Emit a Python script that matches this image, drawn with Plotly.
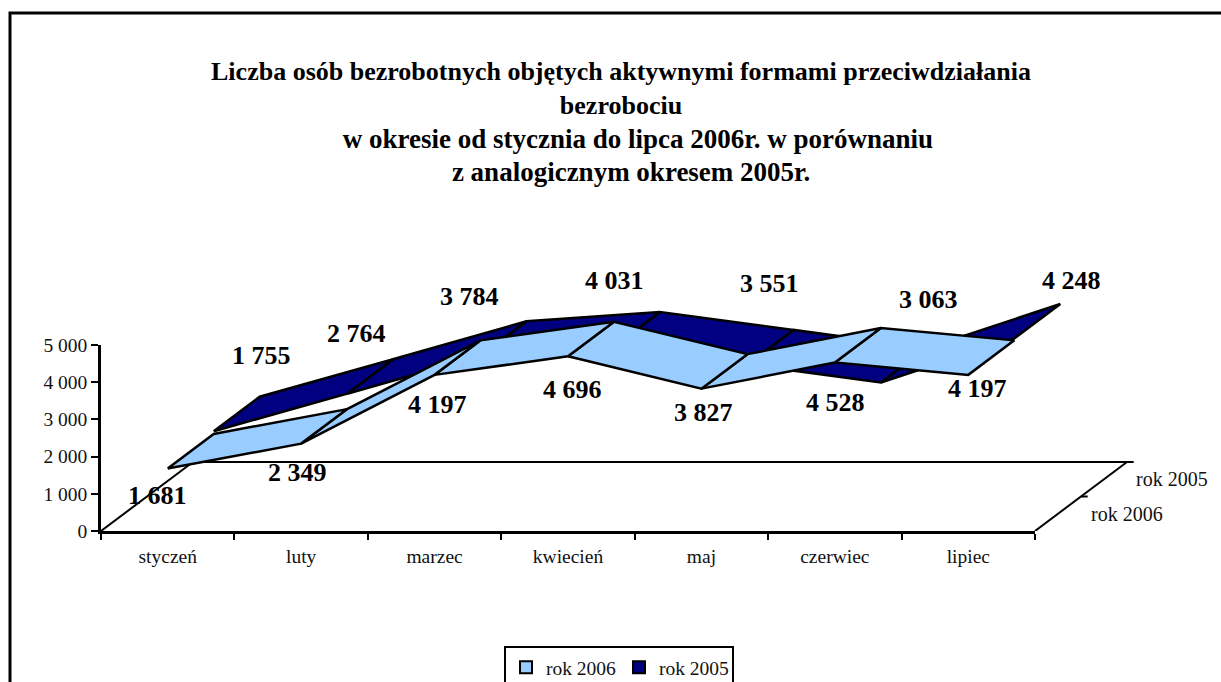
import plotly.graph_objects as go

# ---- data ----
months = ["styczeń", "luty", "marzec", "kwiecień", "maj", "czerwiec", "lipiec"]
rok_2006 = [1681, 2349, 4197, 4696, 3827, 4528, 4197]
rok_2005 = [1755, 2764, 3784, 4031, 3551, 3063, 4248]
series_names = ["rok 2006", "rok 2005"]
title_lines = [
    "Liczba osób bezrobotnych objętych aktywnymi formami przeciwdziałania",
    "bezrobociu",
    "w okresie od stycznia do lipca 2006r. w porównaniu",
    "z analogicznym okresem 2005r.",
]

# ---- style / layout ----
W, H = 1221, 682
L, R, T, B = 101, 1035, 345, 531
FONT = "Liberation Serif"
LIGHT, DARK = "#99CCFF", "#000080"
PX_X = (R - L) / 7               # pixels per category
PX_Y = (B - T) / 5000            # pixels per value unit
DX = 92 / PX_X                   # full depth of the oblique view, in category units
DY = 69 / PX_Y                   # full depth of the oblique view, in value units
x_idx = list(range(len(months)))
x0, x1 = -0.5, len(months) - 0.5
TOP_OVERLAY = 250                # top pixel of the overlay subplot holding the 3D marks

# pixel nudges of data labels from their ribbon-edge anchors
off_2006 = [(-10, 27), (-4, 29), (3, 30), (4, 33), (2, 24), (1, 40), (9, 14)]
off_2005 = [(48, -76), (9, -60), (-11, -59), (0, -66), (22, -81), (48, -83), (57, -58)]


def proj(x, y, d):
    return x + DX * d, y + DY * d


fig = go.Figure()

# legend entries (and the subplot of the visible axes)
for name, col in zip(series_names, [LIGHT, DARK]):
    fig.add_bar(x=[None], y=[None], name=name, marker=dict(color=col, line=dict(color="black", width=2)))

# floor of the 3D box
fx, fy = [], []
for (xa, ya, da), (xb, yb, db) in [
    ((x0, 0, 0), (x0, 0, 1)),
    ((x0, 0, 1), (x1, 0, 1)),
    ((x1, 0, 1), (x1, 0, 0)),
]:
    a, b = proj(xa, ya, da), proj(xb, yb, db)
    fx += [a[0], b[0], None]
    fy += [a[1], b[1], None]
for d in (0.5, 1.0):
    a = proj(x1, 0, d)
    fx += [a[0], a[0] + 0.05, None]
    fy += [a[1], a[1], None]
fig.add_scatter(x=fx, y=fy, xaxis="x2", yaxis="y2", mode="lines", line=dict(color="black", width=2),
                showlegend=False, hoverinfo="skip")

# ribbons: back series first, each ribbon right to left
for vals, (d0, d1), col in [(rok_2005, (0.5, 1.0), DARK), (rok_2006, (0.0, 0.5), LIGHT)]:
    for i in reversed(range(len(vals) - 1)):
        corners = [proj(i, vals[i], d0), proj(i + 1, vals[i + 1], d0),
                   proj(i + 1, vals[i + 1], d1), proj(i, vals[i], d1), proj(i, vals[i], d0)]
        fig.add_scatter(x=[c[0] for c in corners], y=[c[1] for c in corners],
                        xaxis="x2", yaxis="y2",
                        mode="lines", fill="toself", fillcolor=col,
                        line=dict(color="black", width=2.5), showlegend=False,
                        hoverinfo="skip")

# data labels
ann = []
for vals, d, offs in [(rok_2006, 0.0, off_2006), (rok_2005, 0.5, off_2005)]:
    for i, v in enumerate(vals):
        px, py = proj(i, v, d)
        ann.append(dict(x=px, y=py, xref="x2", yref="y2", text=f"{v:,}".replace(",", " "),
                        showarrow=False, xanchor="center", yanchor="middle",
                        xshift=offs[i][0], yshift=-offs[i][1],
                        font=dict(family=FONT, size=26, color="black", weight="bold")))
# depth axis labels
for name, d, sx in [(series_names[0], 0.25, 31), (series_names[1], 0.75, 30)]:
    px, py = proj(x1, 0, d)
    ann.append(dict(x=px, y=py, xref="x2", yref="y2", text=name, showarrow=False,
                    xanchor="left", yanchor="middle", xshift=sx,
                    font=dict(family=FONT, size=20, color="#111")))

# title: the last two lines are set a little larger and sit right of centre in the original
title_html = "<br>".join([
    title_lines[0],
    title_lines[1],
    '<span style="font-size:27px">' + "\u00a0" * 5 + title_lines[2] + "</span>",
    '<span style="font-size:27px">' + "\u00a0" * 3 + title_lines[3] + "</span>",
])

fig.update_layout(
    width=W, height=H, margin=dict(l=0, r=0, t=0, b=0, autoexpand=False),
    paper_bgcolor="white", plot_bgcolor="rgba(0,0,0,0)", separators=". ",
    font=dict(family=FONT, size=19.5, color="#111"),
    title=dict(text=title_html, x=621 / W, xref="container", xanchor="center",
               y=1 - 80 / H, yref="container", yanchor="top",
               font=dict(family=FONT, size=26, color="black", weight="bold")),
    xaxis=dict(domain=[L / W, R / W], anchor="y", range=[x0, x1], tickmode="array", tickvals=x_idx,
               ticktext=months, ticks="", showgrid=False, zeroline=False, showline=True,
               linecolor="black", linewidth=2.5, ticklabelstandoff=6,
               minor=dict(ticks="outside", ticklen=6, tickwidth=2, tickcolor="black",
                          tickmode="array", tickvals=[i - 0.5 for i in range(8)], showgrid=False)),
    yaxis=dict(domain=[1 - B / H, 1 - T / H], anchor="x", range=[0, 5000], tick0=0, dtick=1000,
               tickformat=",d", ticks="outside", ticklen=7, tickwidth=2, tickcolor="black",
               showgrid=False, zeroline=False, showline=True, linecolor="black", linewidth=2.5),
    xaxis2=dict(domain=[L / W, 1], anchor="y2", range=[x0, x0 + (W - L) / PX_X], visible=False),
    yaxis2=dict(domain=[1 - B / H, 1 - TOP_OVERLAY / H], anchor="x2",
                range=[0, (B - TOP_OVERLAY) / PX_Y], visible=False),
    legend=dict(orientation="h", x=619 / W, xref="container", xanchor="center",
                y=1 - 646 / H, yref="container", yanchor="top", entrywidth=68,
                bordercolor="black", borderwidth=2, bgcolor="white",
                font=dict(family=FONT, size=19.5, color="#111")),
    annotations=ann,
    shapes=[dict(type="rect", xref="paper", yref="paper", x0=10 / W, x1=(W + 20) / W,
                 y0=-20 / H, y1=1 - 13 / H, line=dict(color="black", width=3), layer="below")],
)
fig.write_html("out.html", config=dict(displayModeBar=False),
               post_script="document.body.style.margin='0';document.body.style.overflow='hidden';")
